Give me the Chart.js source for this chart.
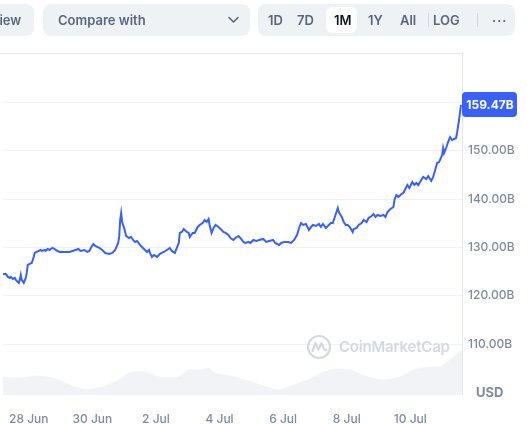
<!DOCTYPE html>
<html>
<head>
<meta charset="utf-8">
<script src="https://cdn.jsdelivr.net/npm/chart.js@4.4.1/dist/chart.umd.min.js"></script>
<style>
  html,body{margin:0;padding:0;background:#fff;overflow:hidden;}
  body{width:527px;height:424px;position:relative;font-family:Inter,"Noto Sans",sans-serif;}
  #wrap{position:absolute;left:0;top:0;width:527px;height:424px;}
  .box{position:absolute;top:4px;height:32px;background:#eff2f5;border-radius:8px;}
  .txt{position:absolute;font-size:13px;font-weight:600;color:#58667e;line-height:32px;top:0;white-space:nowrap;}
  .pill{position:absolute;top:3px;height:26px;background:#fff;border-radius:6px;}
  .sep{position:absolute;top:9px;width:1px;height:14px;background:#cfd6e4;}
  #usd{position:absolute;left:476px;top:384px;font-size:13px;font-weight:700;color:#808a9d;}
  #wm{position:absolute;left:306px;top:334px;height:26px;}
  #wmt{position:absolute;left:339px;top:337px;font-size:15px;font-weight:600;color:#d3d9e3;letter-spacing:-0.2px;}
</style>
</head>
<body>
<div id="wrap"><canvas id="c" width="527" height="424"></canvas></div>

<div class="box" style="left:-20px;width:54px;"><span class="txt" style="left:10px;">View</span></div>
<div class="box" style="left:43px;width:207px;">
  <span class="txt" style="left:15px;">Compare with</span>
  <svg style="position:absolute;left:185px;top:12px" width="11" height="8" viewBox="0 0 11 8"><path d="M1 1.5 L5.5 6 L10 1.5" fill="none" stroke="#58667e" stroke-width="1.6" stroke-linecap="round" stroke-linejoin="round"/></svg>
</div>
<div class="box" style="left:258px;width:257px;">
  <span class="txt" style="left:10px;">1D</span>
  <span class="txt" style="left:39px;">7D</span>
  <div class="pill" style="left:68px;width:31px;"></div>
  <span class="txt" style="left:76px;color:#0d1421;">1M</span>
  <span class="txt" style="left:110px;">1Y</span>
  <span class="txt" style="left:142px;">All</span>
  <div class="sep" style="left:170px;"></div>
  <span class="txt" style="left:175px;">LOG</span>
  <div class="sep" style="left:219px;"></div>
  <span class="txt" style="left:234px;letter-spacing:1px;">···</span>
</div>

<svg id="wm" width="26" height="26" viewBox="0 0 26 26">
  <circle cx="13" cy="13" r="11" fill="none" stroke="#d3d9e3" stroke-width="2.2"/>
  <path d="M6.5 17 L9.5 9 L12.5 15.5 L15.5 9 L18 15 Q19 17 20.5 15.5" fill="none" stroke="#d3d9e3" stroke-width="2.2" stroke-linecap="round" stroke-linejoin="round"/>
</svg>
<div id="wmt">CoinMarketCap</div>
<div id="usd">USD</div>

<script>
// Hours since 28 Jun 00:00
const priceHours = [-19.5,-17.25,-15.75,-14.25,-13.5,-12,-10.5,-9.75,-8.25,-7.5,-6.75,-6,-5.25,-3.75,-2.25,-1.5,-0.75,0.75,2.25,3.75,4.5,6,7.5,9,9.75,12,12.75,14.25,15.75,16.5,18,19.5,20.25,23.25,25.5,27.75,30.75,33,35.25,37.5,39,42,44.25,45.75,47.25,48.75,50.25,53.25,55.5,57.75,60.75,63,65.25,67.5,68.25,69,69.75,70.5,72,73.5,75.75,77.25,78.75,80.25,81.75,84,85.5,87,89.25,90.75,91.5,93,94.5,96.75,99,102,104.25,106.5,108,110.25,111.75,113.25,114,115.5,117,119.25,120.75,121.5,123.75,125.25,127.5,129,131.25,132.75,134.25,135.75,136.5,138,139.5,141,143.25,144.75,147,148.5,150.75,152.25,154.5,156,158.25,159.75,162,163.5,165.75,167.25,169.5,171.75,174,177,179.25,181.5,184.5,186,189,190.5,192.75,195.75,198,200.25,202.5,204,205.5,207,209.25,211.5,213,214.5,216.75,219,220.5,222,224.25,226.5,228,229.5,231,233.25,234,236.25,237.75,239.25,240.75,242.25,244.5,245.25,247.5,249,251.25,252.75,255,256.5,258.75,260.25,261.75,263.25,265.5,267.75,269.25,270.75,273,275.25,276,277.5,279,281.25,282.75,285,285.75,287.25,289.5,291,292.5,294,296.25,297.75,300,301.5,303.75,305.25,306.75,308.25,309.75,312,312.75,313.5,315,316.5,318,319.5,321,322.5,323.25,324.75,326.25];
// Market cap, billions USD
const marketCapB = [124.52,124.52,123.91,123.70,123.91,123.49,123.70,123.29,122.87,122.67,123.29,124.32,123.29,122.67,123.70,124.73,126.38,126.59,126.80,128.04,128.86,129.07,129.28,129.48,129.28,129.48,129.28,129.69,129.48,129.69,129.90,129.69,129.48,129.07,129.07,129.07,129.07,129.28,129.48,129.69,129.28,129.48,129.07,129.28,130.10,130.72,130.31,129.90,129.48,128.86,128.66,128.86,129.48,130.93,132.17,135.68,137.13,135.27,134.03,132.38,131.96,132.17,131.55,131.14,131.34,130.52,130.10,129.69,129.07,129.48,128.86,128.04,128.45,128.04,128.66,129.07,129.48,129.90,129.28,128.86,129.90,130.93,133.00,133.20,133.82,133.20,133.00,132.17,133.00,133.00,134.24,134.65,135.06,135.68,135.27,135.89,134.65,133.00,134.03,134.65,134.24,133.82,133.20,133.00,132.58,131.96,131.55,131.96,132.38,131.96,131.14,130.93,131.14,130.93,131.55,131.34,131.55,131.76,131.14,131.34,131.55,130.93,130.52,130.93,131.14,131.14,130.93,131.55,132.58,134.03,135.06,134.65,134.86,133.62,134.24,134.65,134.44,134.86,134.24,134.86,134.03,134.65,135.06,135.06,136.30,138.16,137.33,136.30,135.27,134.65,134.65,134.24,133.20,133.82,134.03,134.65,135.06,135.68,135.27,136.10,136.51,136.92,136.30,136.71,136.51,136.71,136.30,137.33,137.95,138.37,139.81,140.85,140.43,141.05,141.26,142.50,142.91,142.29,143.53,142.91,143.33,142.91,143.95,144.57,144.15,144.77,143.74,144.57,146.01,147.46,147.67,149.11,150.56,149.52,150.56,151.80,152.83,152.21,152.42,152.62,153.66,156.34,159.47];

const volumeHours = [-19.5,-6.75,5.25,18,30.75,42.75,55.5,68.25,75.75,87.75,98.25,113.25,120.75,130.5,135.75,140.25,155.25,170.25,188.25,200.25,210.75,220.5,230.25,243,255.75,267.75,280.5,290.25,303,310.5,318,327];
const volumeB = [36,34,38,34,20,10,16,30,44,46,36,36,50,50,54,44,36,24,10,20,30,44,52,50,36,30,36,50,56,56,70,90];

const tickHours = [0,48,96,144,192,240,288];
const tickLabels = ['28 Jun','30 Jun','2 Jul','4 Jul','6 Jul','8 Jul','10 Jul'];
const yTicksB = [110,120,130,140,150,160];
const lastLabel = '159.47B';

const priceData = priceHours.map((h,i)=>({x:h,y:marketCapB[i]}));
const volData = volumeHours.map((h,i)=>({x:h,y:volumeB[i]}));

const BLUE = '#3861fb';

const framePlugin = {
  id:'frame',
  afterDraw(chart){
    const {ctx, chartArea:a} = chart;
    ctx.save();
    ctx.strokeStyle = '#e4e8ee';
    ctx.lineWidth = 1;
    ctx.beginPath();
    ctx.moveTo(0, Math.round(a.top)+0.5);
    ctx.lineTo(Math.round(a.right)+0.5, Math.round(a.top)+0.5);
    ctx.lineTo(Math.round(a.right)+0.5, a.bottom);
    ctx.stroke();
    // last value badge
    const ys = chart.scales.y;
    const yp = ys.getPixelForValue(marketCapB[marketCapB.length-1]);
    const bx = a.right, bw = 55, bh = 25, by = yp - bh/2 - 0.5;
    ctx.fillStyle = BLUE;
    ctx.beginPath();
    ctx.roundRect(bx, by, bw, bh, 4);
    ctx.fill();
    ctx.fillStyle = '#fff';
    ctx.font = '700 12px Inter, "Noto Sans", sans-serif';
    ctx.textAlign = 'center';
    ctx.textBaseline = 'middle';
    ctx.fillText(lastLabel, bx + bw/2 + 0.5, by + bh/2 + 0.5);
    ctx.restore();
  }
};

new Chart(document.getElementById('c'), {
  type:'line',
  data:{
    datasets:[
      {data:priceData, borderColor:BLUE, borderWidth:2, pointRadius:0, tension:0, fill:false, yAxisID:'y', order:0},
      {data:volData, borderColor:'#f1f3f6', borderWidth:1, backgroundColor:'#f1f3f6', pointRadius:0, tension:0.2, fill:'origin', yAxisID:'y2', order:1}
    ]
  },
  options:{
    responsive:false,
    animation:false,
    events:[],
    layout:{padding:{top:53,left:0,right:0,bottom:0}},
    plugins:{legend:{display:false}, tooltip:{enabled:false}},
    scales:{
      x:{
        type:'linear', min:-19.5, max:327,
        grid:{display:false}, border:{display:false},
        afterBuildTicks(s){ s.ticks = tickHours.map(v=>({value:v})); },
        afterFit(s){ s.height = 29; },
        ticks:{
          autoSkip:false, maxRotation:0, padding:9,
          color:'#808a9d', font:{family:'Inter', size:12, weight:'500'},
          callback(v){ const i = tickHours.indexOf(v); return i>=0 ? tickLabels[i] : ''; }
        }
      },
      y:{
        position:'right', min:99.5, max:170.2,
        grid:{color:'#eff2f5', drawTicks:false}, border:{display:false},
        afterBuildTicks(s){ s.ticks = yTicksB.map(v=>({value:v})); },
        afterFit(s){ s.width = 65; },
        ticks:{
          padding:6, color:'#808a9d', font:{family:'Inter', size:12, weight:'500'},
          callback(v){ return v.toFixed(2)+'B'; }
        }
      },
      y2:{ display:false, min:0, max:684 }
    }
  },
  plugins:[framePlugin]
});
</script>
</body>
</html>
